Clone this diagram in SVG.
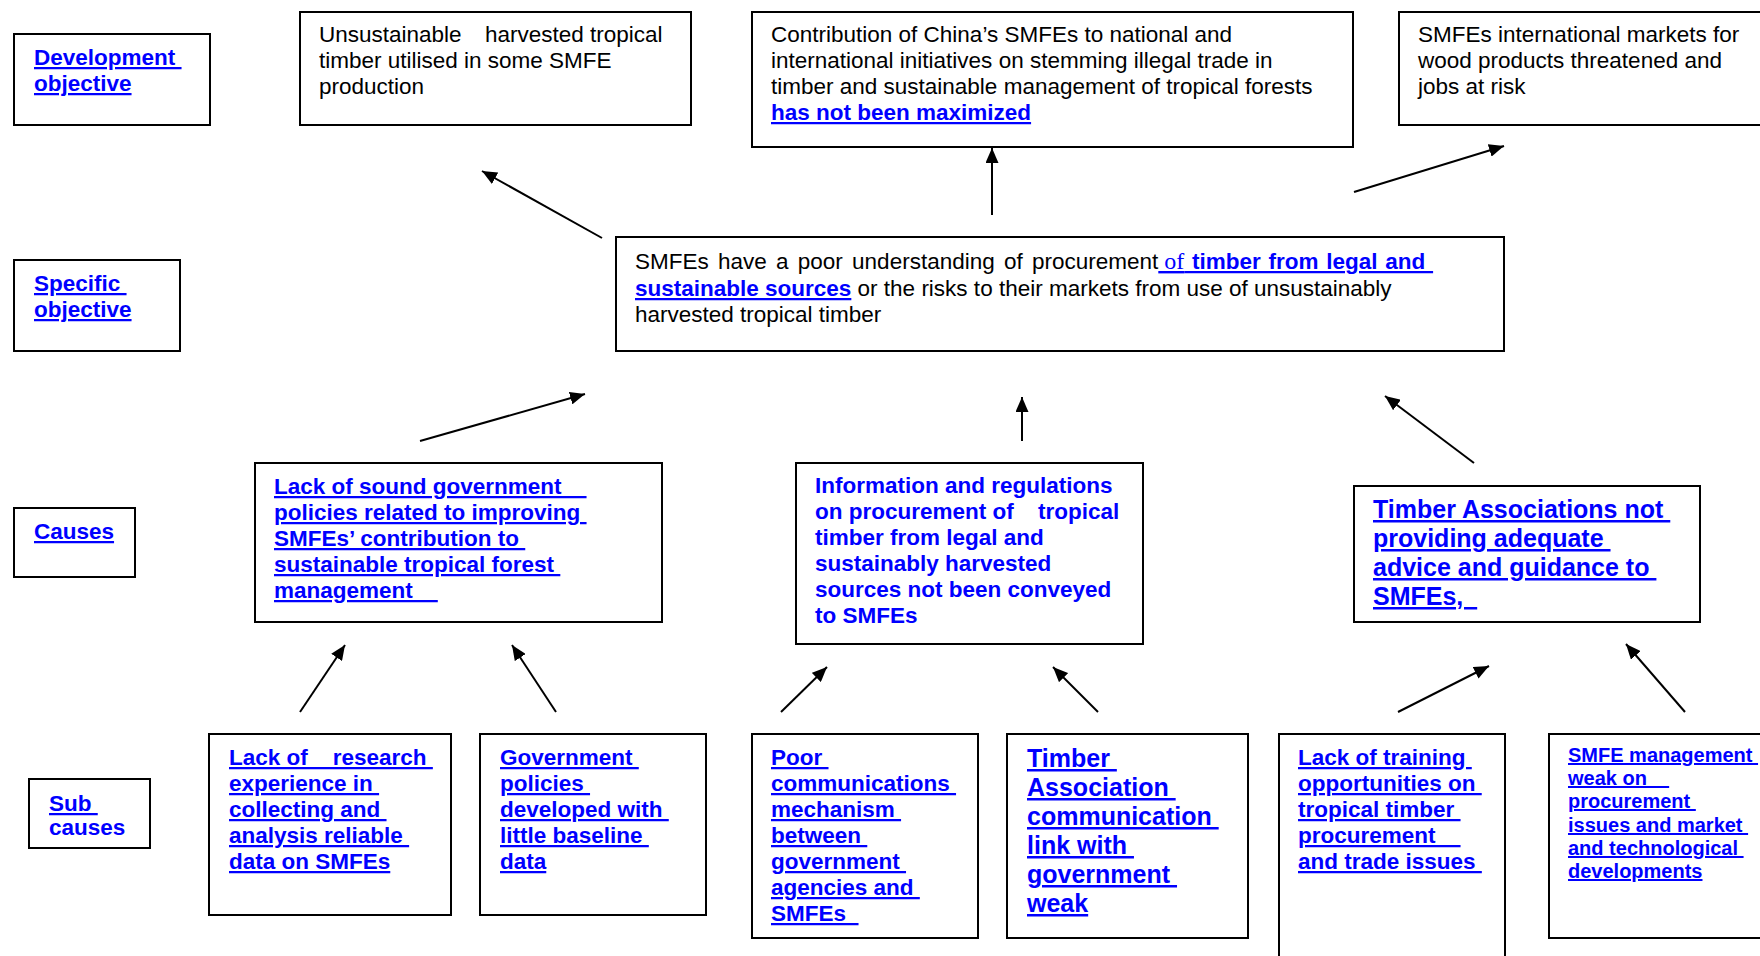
<svg xmlns="http://www.w3.org/2000/svg" width="1760" height="956" viewBox="0 0 1760 956">
<style>
.box{fill:#fff;stroke:#000;stroke-width:2}
text{font-family:"Liberation Sans",Arial,sans-serif;font-size:22.5px;fill:#000;white-space:pre}
.b{font-weight:bold;fill:#0000ff}
.u{text-decoration:underline;text-decoration-thickness:2px}
.big{font-size:25px}
.sm{font-size:20px}
.serif{font-family:"Liberation Serif","Times New Roman",serif;font-weight:normal;fill:#0000ff}
.arr{stroke:#000;stroke-width:2;fill:none;marker-end:url(#ah)}
</style>
<defs>
<marker id="ah" markerUnits="userSpaceOnUse" markerWidth="16" markerHeight="13" refX="15" refY="6.5" orient="auto" viewBox="0 0 16 13">
<path d="M0,0 L15,6.5 L0,13 z" fill="#000"/>
</marker>
</defs>
<rect width="1760" height="956" fill="#fff"/>

<g id="connectors">
<line class="arr" x1="602" y1="238" x2="482" y2="171"/>
<line class="arr" x1="992" y1="215" x2="992" y2="148"/>
<line class="arr" x1="1354" y1="192" x2="1504" y2="146"/>
<line class="arr" x1="420" y1="441" x2="585" y2="394"/>
<line class="arr" x1="1022" y1="441" x2="1022" y2="397"/>
<line class="arr" x1="1474" y1="463" x2="1385" y2="396"/>
<line class="arr" x1="300" y1="712" x2="345" y2="645"/>
<line class="arr" x1="556" y1="712" x2="512" y2="645"/>
<line class="arr" x1="781" y1="712" x2="827" y2="667"/>
<line class="arr" x1="1098" y1="712" x2="1053" y2="667"/>
<line class="arr" x1="1398" y1="712" x2="1489" y2="666"/>
<line class="arr" x1="1685" y1="712" x2="1626" y2="644"/>
</g>

<g id="label-development">
<rect class="box" x="14" y="34" width="196" height="91"/>
<text class="b u" x="34" y="65">Development </text>
<text class="b u" x="34" y="91">objective</text>
</g>
<g id="label-specific">
<rect class="box" x="14" y="260" width="166" height="91"/>
<text class="b u" x="34" y="291">Specific </text>
<text class="b u" x="34" y="317">objective</text>
</g>
<g id="label-causes">
<rect class="box" x="14" y="508" width="121" height="69"/>
<text class="b u" x="34" y="539">Causes</text>
</g>
<g id="label-subcauses">
<rect class="box" x="29" y="779" width="121" height="69"/>
<text class="b u" x="49" y="811">Sub </text>
<text class="b" x="49" y="835">causes</text>
</g>

<g id="dev-unsustainable">
<rect class="box" x="300" y="12" width="391" height="113"/>
<text x="319" y="42">Unsustainable<tspan x="485">harvested tropical</tspan></text>
<text x="319" y="68">timber utilised in some SMFE</text>
<text x="319" y="94">production</text>
</g>
<g id="dev-contribution">
<rect class="box" x="752" y="12" width="601" height="135"/>
<text x="771" y="42">Contribution of China’s SMFEs to national and</text>
<text x="771" y="68">international initiatives on stemming illegal trade in</text>
<text x="771" y="94">timber and sustainable management of tropical forests</text>
<text class="b u" x="771" y="120">has not been maximized</text>
</g>
<g id="dev-markets">
<rect class="box" x="1399" y="12" width="370" height="113"/>
<text x="1418" y="42">SMFEs international markets for</text>
<text x="1418" y="68">wood products threatened and</text>
<text x="1418" y="94">jobs at risk</text>
</g>

<g id="specific-objective">
<rect class="box" x="616" y="237" width="888" height="114"/>
<text x="635" y="269"><tspan word-spacing="3">SMFEs have a poor understanding of procurement</tspan><tspan class="serif u" font-size="24"> of</tspan><tspan class="b u" word-spacing="1.5"> timber from legal and </tspan></text>
<text x="635" y="296"><tspan class="b u">sustainable sources</tspan> or the risks to their markets from use of unsustainably</text>
<text x="635" y="322">harvested tropical timber</text>
</g>

<g id="cause-policies">
<rect class="box" x="255" y="463" width="407" height="159"/>
<text class="b u" x="274" y="494">Lack of sound government    </text>
<text class="b u" x="274" y="520">policies related to improving </text>
<text class="b u" x="274" y="546">SMFEs’ contribution to </text>
<text class="b u" x="274" y="572">sustainable tropical forest </text>
<text class="b u" x="274" y="598">management    </text>
</g>
<g id="cause-information">
<rect class="box" x="796" y="463" width="347" height="181"/>
<text class="b" x="815" y="493">Information and regulations</text>
<text class="b" x="815" y="519">on procurement of<tspan x="1038">tropical</tspan></text>
<text class="b" x="815" y="545">timber from legal and</text>
<text class="b" x="815" y="571">sustainably harvested</text>
<text class="b" x="815" y="597">sources not been conveyed</text>
<text class="b" x="815" y="623">to SMFEs</text>
</g>
<g id="cause-associations">
<rect class="box" x="1354" y="486" width="346" height="136"/>
<text class="b u big" x="1373" y="518">Timber Associations not </text>
<text class="b u big" x="1373" y="547">providing adequate </text>
<text class="b u big" x="1373" y="576">advice and guidance to </text>
<text class="b u big" x="1373" y="605">SMFEs,  </text>
</g>

<g id="sub-research">
<rect class="box" x="209" y="734" width="242" height="181"/>
<text class="b u" x="229" y="765">Lack of    research </text>
<text class="b u" x="229" y="791">experience in </text>
<text class="b u" x="229" y="817">collecting and </text>
<text class="b u" x="229" y="843">analysis reliable </text>
<text class="b u" x="229" y="869">data on SMFEs</text>
</g>
<g id="sub-baseline">
<rect class="box" x="480" y="734" width="226" height="181"/>
<text class="b u" x="500" y="765">Government </text>
<text class="b u" x="500" y="791">policies </text>
<text class="b u" x="500" y="817">developed with </text>
<text class="b u" x="500" y="843">little baseline </text>
<text class="b u" x="500" y="869">data</text>
</g>
<g id="sub-communications">
<rect class="box" x="752" y="734" width="226" height="204"/>
<text class="b u" x="771" y="765">Poor </text>
<text class="b u" x="771" y="791">communications </text>
<text class="b u" x="771" y="817">mechanism </text>
<text class="b u" x="771" y="843">between </text>
<text class="b u" x="771" y="869">government </text>
<text class="b u" x="771" y="895">agencies and </text>
<text class="b u" x="771" y="921">SMFEs  </text>
</g>
<g id="sub-association-link">
<rect class="box" x="1007" y="734" width="241" height="204"/>
<text class="b u big" x="1027" y="767">Timber </text>
<text class="b u big" x="1027" y="796">Association </text>
<text class="b u big" x="1027" y="825">communication </text>
<text class="b u big" x="1027" y="854">link with </text>
<text class="b u big" x="1027" y="883">government </text>
<text class="b u big" x="1027" y="912">weak</text>
</g>
<g id="sub-training">
<rect class="box" x="1279" y="734" width="226" height="250"/>
<text class="b u" x="1298" y="765">Lack of training </text>
<text class="b u" x="1298" y="791">opportunities on </text>
<text class="b u" x="1298" y="817">tropical timber </text>
<text class="b u" x="1298" y="843">procurement    </text>
<text class="b u" x="1298" y="869">and trade issues </text>
</g>
<g id="sub-management">
<rect class="box" x="1549" y="734" width="230" height="204"/>
<text class="b u sm" x="1568" y="762">SMFE management </text>
<text class="b u sm" x="1568" y="785">weak on    </text>
<text class="b u sm" x="1568" y="808">procurement </text>
<text class="b u sm" x="1568" y="832">issues and market </text>
<text class="b u sm" x="1568" y="855">and technological </text>
<text class="b u sm" x="1568" y="878">developments</text>
</g>
</svg>
